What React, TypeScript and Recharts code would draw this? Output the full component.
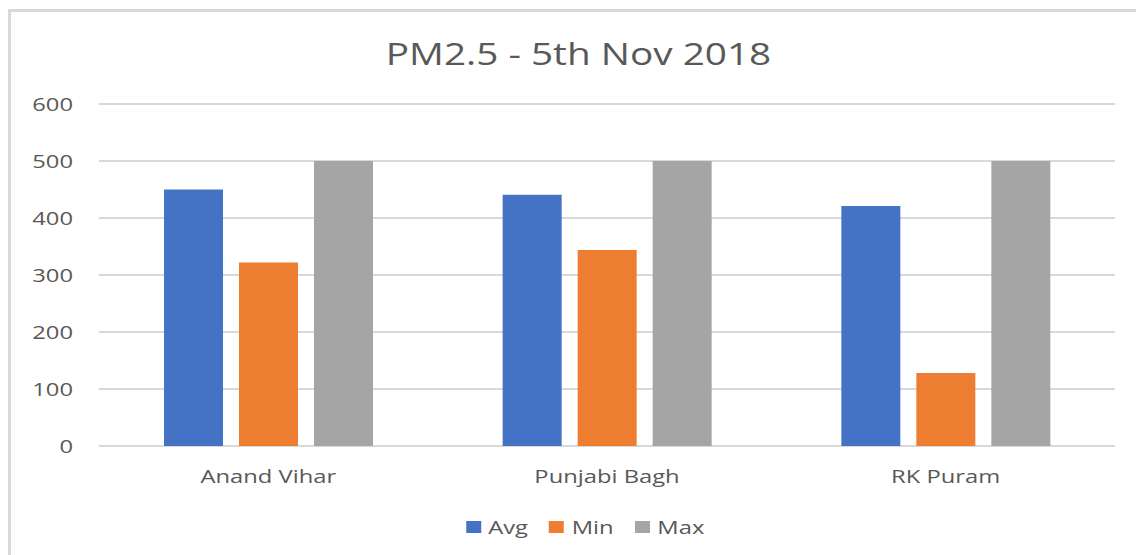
import React from 'react';
import { BarChart, Bar, XAxis, YAxis, CartesianGrid, Legend } from 'recharts';

const categories = ['Anand Vihar', 'Punjabi Bagh', 'RK Puram'];
const avgValues = [450, 441, 421];
const minValues = [322, 344, 128];
const maxValues = [500, 500, 500];
const yTicks = [0, 100, 200, 300, 400, 500, 600];
const seriesNames = ['Avg', 'Min', 'Max'];
const seriesColors = ['#4472C4', '#ED7D31', '#A5A5A5'];

const data = categories.map((c, i) => ({
  name: c,
  Avg: avgValues[i],
  Min: minValues[i],
  Max: maxValues[i],
}));

const FONT = '"Open Sans", "Noto Sans", sans-serif';
const TEXT = '#595959';
const SX = 1.25;

const YTick = (props: any) => {
  const { x, y, payload } = props;
  return (
    <g transform={`translate(${x},${y}) scale(${SX},1)`}>
      <text x={0} y={0} dy="0.36em" textAnchor="end" fill={TEXT} fontSize={19} fontFamily={FONT}>
        {payload.value}
      </text>
    </g>
  );
};

const XTick = (props: any) => {
  const { x, y, payload } = props;
  return (
    <g transform={`translate(${x},${y}) scale(${SX},1)`}>
      <text x={0} y={37} textAnchor="middle" fill={TEXT} fontSize={19} fontFamily={FONT}>
        {payload.value}
      </text>
    </g>
  );
};

const LegendContent = (props: any) => {
  const payload = [...(props.payload || [])].sort(
    (a: any, b: any) => seriesNames.indexOf(a.value) - seriesNames.indexOf(b.value)
  );
  return (
    <div
      style={{
        display: 'flex',
        justifyContent: 'center',
        alignItems: 'center',
        height: 24,
        transform: `scaleX(${SX})`,
        transformOrigin: '585px 50%',
        paddingLeft: 34,
        fontFamily: FONT,
        fontSize: 19,
        color: TEXT,
      }}
    >
      {payload.map((p: any, i: number) => (
        <div key={i} style={{ display: 'flex', alignItems: 'center', marginRight: i < payload.length - 1 ? 17 : 0 }}>
          <div style={{ width: 12, height: 12, background: p.color, marginRight: 6 }} />
          <span style={{ lineHeight: '24px' }}>{p.value}</span>
        </div>
      ))}
    </div>
  );
};

export default function App() {
  return (
    <div style={{ position: 'absolute', left: 0, top: 0, width: 1136, height: 555, background: '#fff', overflow: 'hidden' }}>
      <BarChart
        width={1136}
        height={555}
        data={data}
        margin={{ top: 104, right: 21, bottom: 0, left: 0 }}
        barSize={59}
        barGap={16}
      >
        <CartesianGrid vertical={false} stroke="#d9d9d9" strokeWidth={2} />
        <XAxis
          dataKey="name"
          height={109}
          axisLine={false}
          tickLine={false}
          tickSize={0}
          tickMargin={0}
          tick={<XTick />}
          interval={0}
        />
        <YAxis
          width={99}
          domain={[0, 600]}
          ticks={yTicks}
          axisLine={false}
          tickLine={false}
          tickSize={0}
          tickMargin={26}
          tick={<YTick />}
          interval={0}
        />
        <Legend
          layout="horizontal"
          verticalAlign="middle"
          align="center"
          content={<LegendContent />}
          wrapperStyle={{ top: 515, left: 0, width: 1136, height: 24 }}
        />
        {seriesNames.map((s, i) => (
          <Bar key={s} dataKey={s} fill={seriesColors[i]} isAnimationActive={false} />
        ))}
      </BarChart>
      <svg width={1136} height={555} style={{ position: 'absolute', left: 0, top: 0, pointerEvents: 'none' }}>
        <rect x={9.5} y={10.5} width={2000} height={2000} fill="none" stroke="#d9d9d9" strokeWidth={3} />
        <g transform={`translate(578.5,65) scale(${SX},1)`}>
          <text x={0} y={0} textAnchor="middle" fill={TEXT} fontSize={31} fontFamily={FONT}>
            PM2.5 - 5th Nov 2018
          </text>
        </g>
      </svg>
    </div>
  );
}
